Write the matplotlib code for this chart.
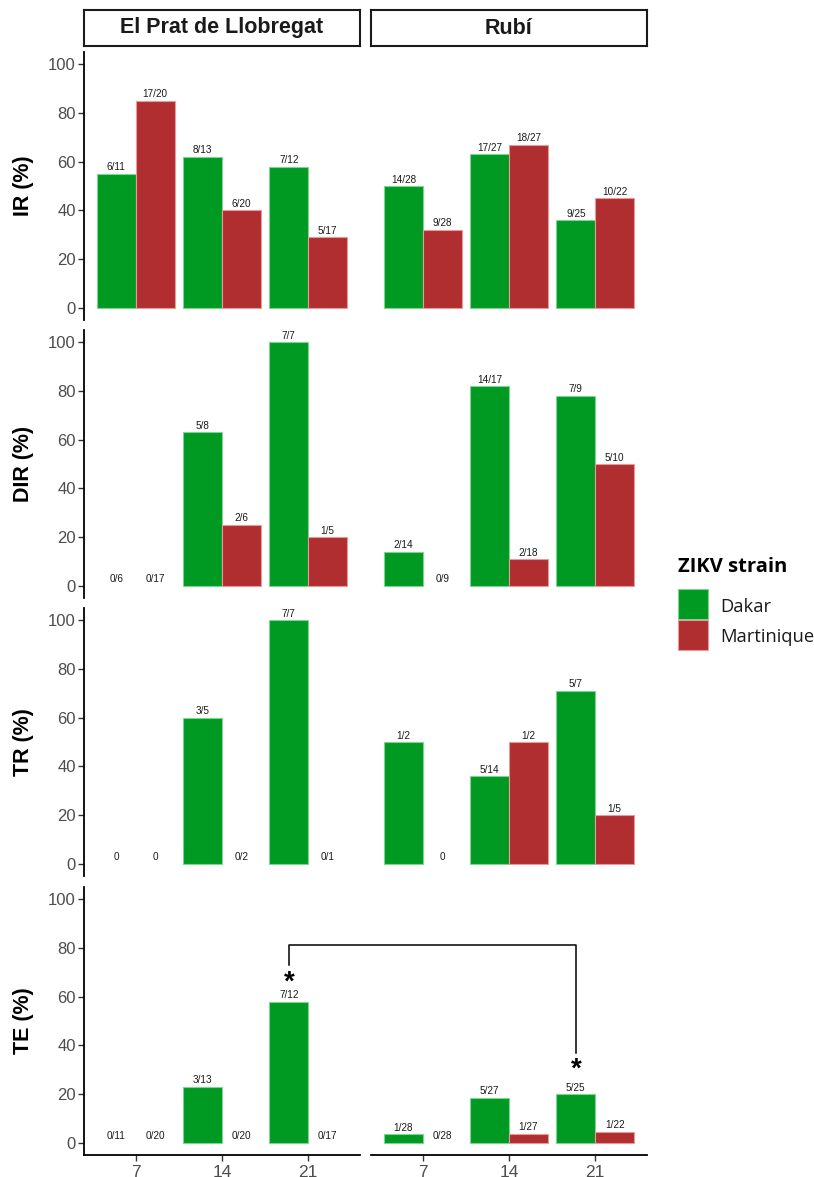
import numpy as np
import matplotlib.pyplot as plt
from matplotlib.patches import Rectangle
from matplotlib.lines import Line2D
from matplotlib.transforms import offset_copy

plt.rcParams['font.family'] = ['Liberation Sans', 'DejaVu Sans']

# data (rows: El Prat de Llobregat, Rubí; columns: day 7, 14, 21)
days = ['7', '14', '21']
sites = ['El Prat de Llobregat', 'Rubí']
metrics = ['IR (%)', 'DIR (%)', 'TR (%)', 'TE (%)']
strains = ['Dakar', 'Martinique']

ir_dakar = [[55, 62, 58], [50, 63, 36]]
ir_mart = [[85, 40, 29], [32, 67, 45]]
ir_dakar_lab = [['6/11', '8/13', '7/12'], ['14/28', '17/27', '9/25']]
ir_mart_lab = [['17/20', '6/20', '5/17'], ['9/28', '18/27', '10/22']]

dir_dakar = [[0, 63, 100], [14, 82, 78]]
dir_mart = [[0, 25, 20], [0, 11, 50]]
dir_dakar_lab = [['0/6', '5/8', '7/7'], ['2/14', '14/17', '7/9']]
dir_mart_lab = [['0/17', '2/6', '1/5'], ['0/9', '2/18', '5/10']]

tr_dakar = [[0, 60, 100], [50, 36, 71]]
tr_mart = [[0, 0, 0], [0, 50, 20]]
tr_dakar_lab = [['0', '3/5', '7/7'], ['1/2', '5/14', '5/7']]
tr_mart_lab = [['0', '0/2', '0/1'], ['0', '1/2', '1/5']]

te_dakar = [[0, 23, 58], [3.6, 18.5, 20]]
te_mart = [[0, 0, 0], [0, 3.7, 4.5]]
te_dakar_lab = [['0/11', '3/13', '7/12'], ['1/28', '5/27', '5/25']]
te_mart_lab = [['0/20', '0/20', '0/17'], ['0/28', '1/27', '1/22']]

# significance bracket in TE panel (Dakar, day 21: El Prat vs Rubí)
sig_top = 81
sig_left_end = 73
sig_right_end = 37
star_y = [68, 32]

panels = [
    (ir_dakar, ir_mart, ir_dakar_lab, ir_mart_lab),
    (dir_dakar, dir_mart, dir_dakar_lab, dir_mart_lab),
    (tr_dakar, tr_mart, tr_dakar_lab, tr_mart_lab),
    (te_dakar, te_mart, te_dakar_lab, te_mart_lab),
]

green = '#009922'
red = '#B02E30'
green_edge = '#7FD495'
red_edge = '#E89A9A'
tick_col = '#4D4D4D'

W, H = 814, 1177
fig = plt.figure(figsize=(W / 100, H / 100), dpi=100)


def box(x0, y0, x1, y1):
    # pixel box (top-left origin) -> figure fraction rect
    return [x0 / W, 1 - y1 / H, (x1 - x0) / W, (y1 - y0) / H]


cols_px = [(84, 360), (371, 647)]
rows_px = [(52, 320), (330, 598), (608, 876), (887, 1155)]

x = np.arange(len(days))
bw = 0.45
axes = {}

for r, (dk, mt, dkl, mtl) in enumerate(panels):
    for c in range(2):
        ax = fig.add_axes(box(cols_px[c][0], rows_px[r][0], cols_px[c][1], rows_px[r][1]))
        axes[(r, c)] = ax
        for vals, labs, off, fc, ec in [(dk[c], dkl[c], -bw / 2, green, green_edge),
                                         (mt[c], mtl[c], bw / 2, red, red_edge)]:
            lws = [0.8 if v > 0 else 0 for v in vals]
            ax.bar(x + off, vals, width=bw, color=fc, edgecolor=ec, linewidth=lws)
            for xi, v, lab in zip(x + off, vals, labs):
                ax.text(xi, v + 0.6, lab, ha='center', va='bottom', fontsize=7.2, color='#1a1a1a')
        ax.set_xlim(-0.6, 2.6)
        ax.set_ylim(-5, 105)
        for s in ['top', 'right']:
            ax.spines[s].set_visible(False)
        ax.spines['left'].set_visible(c == 0)
        ax.spines['bottom'].set_visible(r == 3)
        ax.spines['left'].set_linewidth(1.3)
        ax.spines['bottom'].set_linewidth(1.3)
        ax.set_yticks([0, 20, 40, 60, 80, 100])
        ax.tick_params(axis='y', length=4, width=1, color='#333333', labelsize=12,
                       labelcolor=tick_col, pad=2, left=(c == 0), labelleft=(c == 0))
        ax.set_xticks(x)
        ax.set_xticklabels(days)
        ax.tick_params(axis='x', length=4, width=1, color='#333333', labelsize=12.5,
                       labelcolor=tick_col, pad=3.5, bottom=(r == 3), labelbottom=(r == 3))
        ax.patch.set_visible(False)
    yc = 1 - (rows_px[r][0] + rows_px[r][1]) / 2 / H
    fig.text(24 / W, yc, metrics[r], rotation=90, ha='center', va='center',
             fontsize=15.5, fontweight='bold', color='black')

# facet strips
for c in range(2):
    sax = fig.add_axes(box(cols_px[c][0], 10, cols_px[c][1], 46))
    sax.set_xticks([])
    sax.set_yticks([])
    for s in sax.spines.values():
        s.set_linewidth(1.5)
        s.set_color('#1a1a1a')
    sax.text(0.5, 0.5, sites[c], ha='center', va='center', fontsize=15.5,
             fontweight='bold', color='#1a1a1a', transform=sax.transAxes)

# significance bracket across the two TE panels
inv = fig.transFigure.inverted()


def to_fig(ax, xx, yy):
    return inv.transform(ax.transData.transform((xx, yy)))


ax_l, ax_r = axes[(3, 0)], axes[(3, 1)]
p1 = to_fig(ax_l, 2 - bw / 2, sig_left_end)
p2 = to_fig(ax_l, 2 - bw / 2, sig_top)
p3 = to_fig(ax_r, 2 - bw / 2, sig_top)
p4 = to_fig(ax_r, 2 - bw / 2, sig_right_end)
fig.add_artist(Line2D([p1[0], p2[0], p3[0], p4[0]], [p1[1], p2[1], p3[1], p4[1]],
                      transform=fig.transFigure, color='black', linewidth=1.1))
for axx, sy in zip([ax_l, ax_r], star_y):
    tr = offset_copy(axx.transData, fig=fig, x=0, y=-5, units='dots')
    axx.text(2 - bw / 2, sy, '*', ha='center', va='center', fontsize=20,
             fontweight='bold', color='black', clip_on=False, transform=tr)

# legend
fig.text(678 / W, 1 - 572 / H, 'ZIKV strain', fontsize=14.5, fontweight='bold',
         family='Open Sans', va='baseline', ha='left')
leg_rows = [(589, 619, 611.5), (620, 650, 641.5)]
for (y0, y1, yb), name, fc, ec in zip(leg_rows, strains, [green, red], [green_edge, red_edge]):
    fig.add_artist(Rectangle((678 / W, 1 - y1 / H), 30 / W, (y1 - y0) / H,
                             transform=fig.transFigure, facecolor=fc, edgecolor=ec, linewidth=0.8))
    fig.text(720 / W, 1 - yb / H, name, fontsize=13.2, family='Open Sans',
             va='baseline', ha='left', color='#1a1a1a')

fig.savefig('out.png', dpi=100)
